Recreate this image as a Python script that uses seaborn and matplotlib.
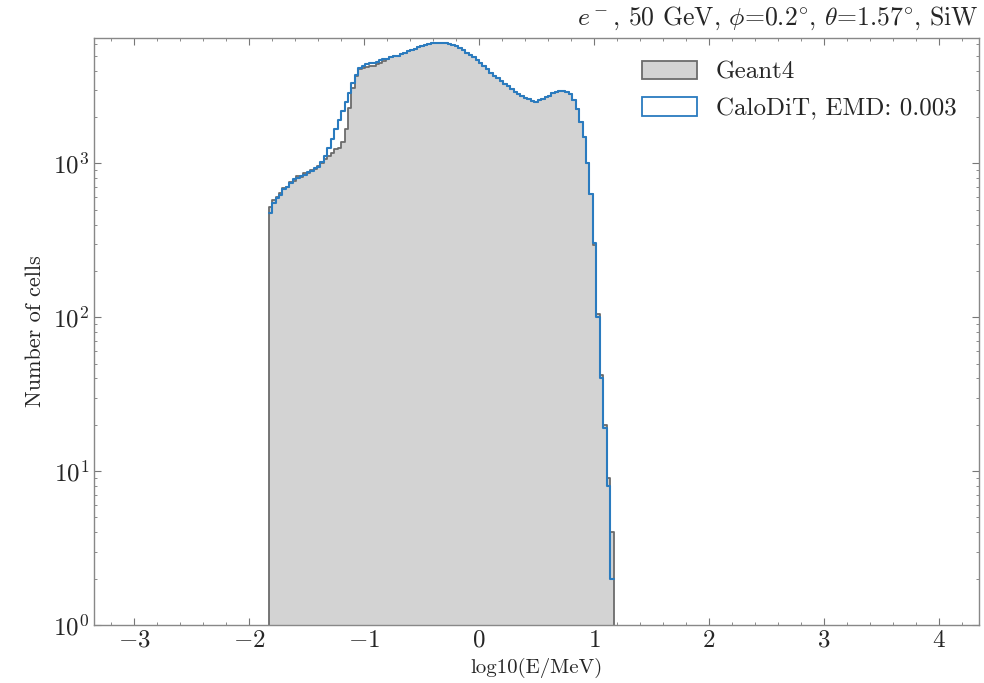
import numpy as np
import pandas as pd
import matplotlib
matplotlib.use("Agg")
import matplotlib.pyplot as plt
from matplotlib.patches import Patch
import seaborn as sns

# ---- data ----
bin_start = -1.83
bin_width = 0.03
geant4_counts = [
    520, 575, 600, 640, 690, 700, 752, 770, 830, 815,
    860, 865, 900, 915, 960, 1000, 1072, 1122, 1175, 1230,
    1259, 1380, 1660, 2291, 3090, 3715, 4074, 4169, 4217, 4266,
    4315, 4416, 4519, 4624, 4786, 4898, 4955, 5012, 5129, 5248,
    5370, 5433, 5559, 5689, 5754, 5888, 5957, 6026, 6067, 6095,
    6067, 6026, 5957, 5888, 5754, 5623, 5433, 5248, 5070, 4898,
    4677, 4467, 4266, 4074, 3890, 3715, 3589, 3428, 3273, 3162,
    3020, 2917, 2818, 2723, 2661, 2600, 2541, 2512, 2570, 2630,
    2692, 2754, 2851, 2917, 2951, 2938, 2897, 2818, 2570, 2239,
    1862, 1479, 1000, 631, 295, 105, 42, 20, 9, 4,
]
calodit_counts = [
    479, 556, 595, 625, 680, 705, 745, 790, 808, 830,
    845, 880, 885, 930, 950, 1023, 1122, 1259, 1445, 1660,
    1905, 2188, 2512, 2884, 3311, 3758, 4169, 4315, 4416, 4467,
    4519, 4571, 4677, 4732, 4786, 4898, 4955, 5012, 5129, 5248,
    5370, 5433, 5559, 5689, 5754, 5888, 5957, 6026, 6067, 6095,
    6067, 6026, 5957, 5888, 5754, 5623, 5433, 5248, 5070, 4898,
    4677, 4467, 4266, 4074, 3890, 3715, 3589, 3428, 3273, 3162,
    3020, 2917, 2818, 2723, 2661, 2600, 2541, 2512, 2570, 2630,
    2692, 2754, 2851, 2917, 2951, 2938, 2897, 2818, 2570, 2239,
    1862, 1479, 1000, 631, 302, 100, 40, 19, 8, 2,
]
labels = ["Geant4", "CaloDiT, EMD: 0.003"]
title = r"$e^-$, 50 GeV, $\phi$=0.2$^{\circ}$, $\theta$=1.57$^{\circ}$, SiW"
xlabel = "log10(E/MeV)"
ylabel = "Number of cells"

n_bins = len(geant4_counts)
edges = [round(bin_start + bin_width * i, 4) for i in range(n_bins + 1)]
centers = [0.5 * (edges[i] + edges[i + 1]) for i in range(n_bins)]
df = pd.DataFrame({"x": centers, "g4": geant4_counts, "dit": calodit_counts})

# ---- style ----
sns.set_style("ticks")
plt.rcParams["font.family"] = ["cmr10", "DejaVu Serif"]
plt.rcParams["mathtext.fontset"] = "cm"
plt.rcParams["axes.formatter.use_mathtext"] = True
plt.rcParams["axes.unicode_minus"] = True

fig = plt.figure(figsize=(9.84, 6.83), dpi=100)
ax = fig.add_axes([0.0955, 0.085, 0.8995, 0.859])
ax.set_yscale("log")

g4_color = "#d3d3d3"
g4_edge = "#6b6b6b"
dit_color = "#2a7bbf"

sns.histplot(data=df, x="x", weights="g4", bins=edges, element="step",
             fill=True, color=g4_color, edgecolor=g4_edge, linewidth=1.3,
             alpha=1.0, ax=ax)
sns.histplot(data=df, x="x", weights="dit", bins=edges, element="step",
             fill=False, color=dit_color, linewidth=1.5, ax=ax)

ax.set_xlim(-3.35, 4.35)
ax.set_ylim(1, 6500)

ax.set_xlabel(xlabel, fontsize=15, labelpad=4)
ax.set_ylabel(ylabel, fontsize=16, labelpad=6)
ax.set_title(title, loc="right", fontsize=18.5, pad=10)

ax.minorticks_on()
ax.tick_params(which="both", direction="in", top=True, right=True,
               labelsize=18, color="#777777")
ax.tick_params(which="major", length=5)
ax.tick_params(which="minor", length=2.5)
for s in ax.spines.values():
    s.set_color("#888888")
    s.set_linewidth(1.0)

handles = [Patch(facecolor=g4_color, edgecolor=g4_edge, linewidth=1.3),
           Patch(facecolor="white", edgecolor=dit_color, linewidth=1.3)]
ax.legend(handles, labels, loc="upper right", frameon=False, fontsize=18,
          handlelength=2.2, handleheight=0.75, handletextpad=0.75,
          labelspacing=0.55, borderaxespad=0.5,
          bbox_to_anchor=(1.0, 1.0))

fig.savefig("out.png", dpi=100)
